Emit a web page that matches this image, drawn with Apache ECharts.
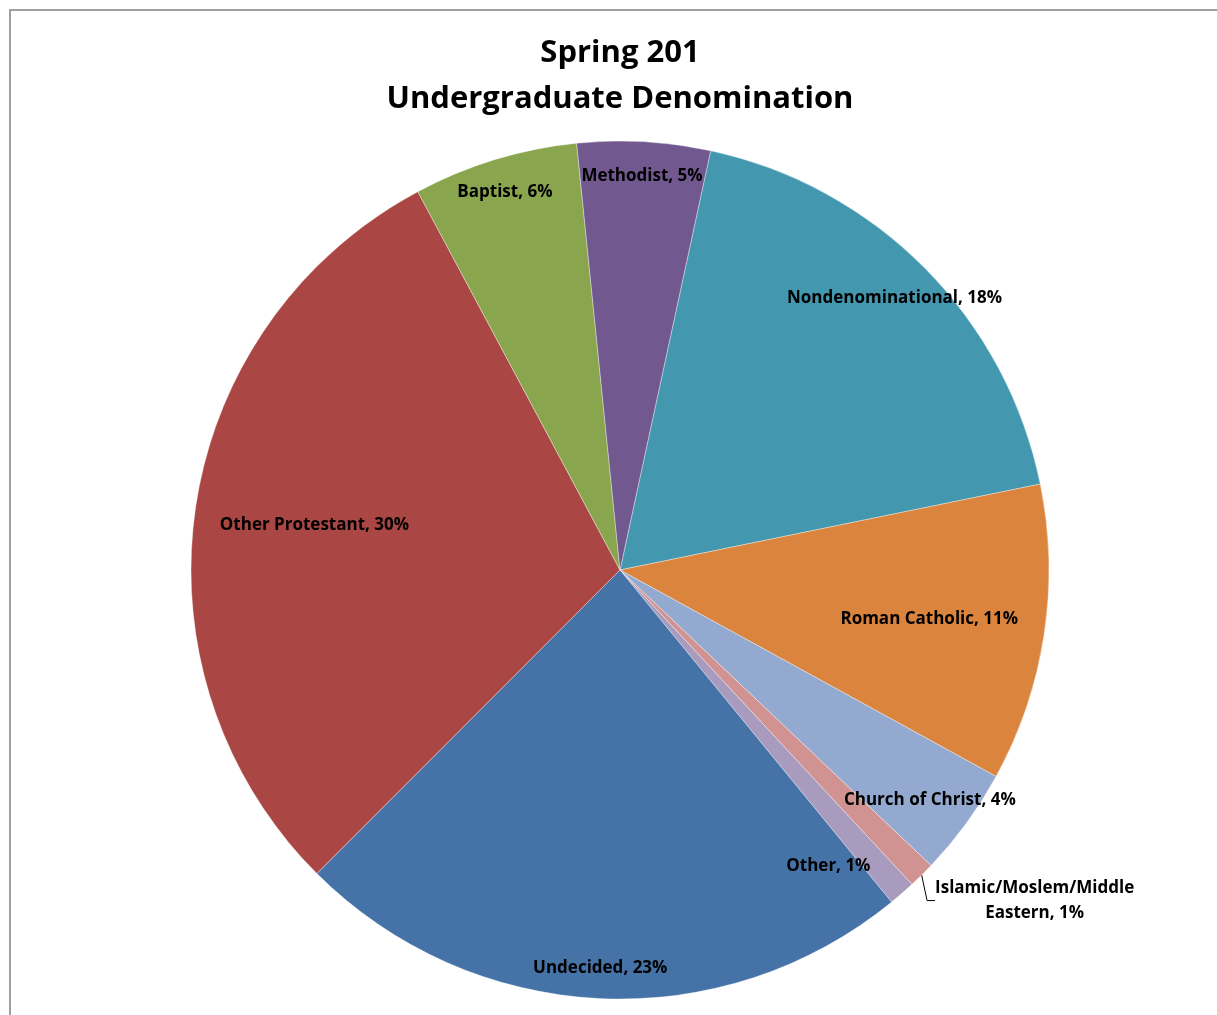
<!DOCTYPE html>
<html>
<head>
<meta charset="utf-8">
<script src="https://cdn.jsdelivr.net/npm/echarts@6/dist/echarts.min.js"></script>
<style>
html,body{margin:0;padding:0;background:#fff;}
#chart{width:1217px;height:1015px;}
</style>
</head>
<body>
<div id="chart"></div>
<script>
// ---- Data ----
var titleLines = ['Spring 201', 'Undergraduate Denomination'];
var categories = ['Nondenominational', 'Roman Catholic', 'Church of Christ',
  'Islamic/Moslem/Middle Eastern', 'Other', 'Undecided', 'Other Protestant',
  'Baptist', 'Methodist'];
var values = [18.4, 11.2, 4.1, 1.0, 1.0, 23.4, 29.7, 6.2, 5.0];

// ---- Styles ----
var colors = ['#4398AF', '#DB843D', '#93A9CF', '#D19392', '#A99BBD',
  '#4572A7', '#AA4643', '#89A54E', '#71588F'];
// fraction of the radius at which each inside label is centred, and angular nudge (deg)
var labelRadiusFrac = [0.90, 0.73, 0.90, null, 0.845, 0.93, 0.72, 0.92, 0.92];
var labelAngleNudge = [0, 0.5, 0.5, 0, 6, 0, 0, 0, 0];
var CX = 620, CY = 570, R = 429;
var FONT = '"Open Sans", "Liberation Sans", sans-serif';

var chart = echarts.init(document.getElementById('chart'), null, {renderer: 'canvas'});

var data = categories.map(function (c, i) {
  var item = {name: c, value: values[i], itemStyle: {color: colors[i]}};
  if (labelRadiusFrac[i] == null) {
    item.label = {position: 'outside', lineHeight: 25,
      formatter: function (p) {
        return p.name.replace('Middle ', 'Middle\n') + ', ' + Math.round(p.percent) + '%';
      }};
    item.labelLine = {show: true, length: 12, length2: 8, smooth: false,
      lineStyle: {color: '#000', width: 1}};
  }
  return item;
});

chart.setOption({
  animation: false,
  backgroundColor: '#fff',
  title: {
    text: titleLines.join('\n'),
    left: CX - 5,
    textAlign: 'center',
    top: 25,
    padding: 5,
    textStyle: {fontFamily: FONT, fontWeight: 'bold', fontSize: 31, lineHeight: 46, color: '#000'}
  },
  graphic: [{
    type: 'rect',
    shape: {x: 10, y: 10, width: 1240, height: 1040},
    style: {fill: 'none', stroke: '#A0A0A0', lineWidth: 2},
    silent: true
  }],
  series: [{
    type: 'pie',
    center: [CX, CY],
    radius: [0, R],
    startAngle: 90 - 12.2,
    clockwise: true,
    avoidLabelOverlap: false,
    data: data,
    itemStyle: {borderColor: 'rgba(255,255,255,0.6)', borderWidth: 0.6},
    label: {
      show: true,
      position: 'inside',
      fontFamily: FONT,
      fontWeight: 'bold',
      fontSize: 17,
      color: '#000',
      formatter: function (p) { return p.name + ', ' + Math.round(p.percent) + '%'; }
    },
    labelLine: {show: false},
    emphasis: {disabled: true},
    labelLayout: function (p) {
      var k = labelRadiusFrac[p.dataIndex];
      var r = p.labelRect;
      if (k == null) {
        return {x: r.x + r.width / 2 - 8, y: r.y + r.height / 2 + 17, align: 'center', verticalAlign: 'middle'};
      }
      var lx = r.x + r.width / 2, ly = r.y + r.height / 2;
      var vx = lx - CX, vy = ly - CY;
      var len = Math.sqrt(vx * vx + vy * vy) || 1;
      var ux = vx / len, uy = vy / len;
      var a = labelAngleNudge[p.dataIndex] * Math.PI / 180;
      var rx = ux * Math.cos(a) - uy * Math.sin(a);
      var ry = ux * Math.sin(a) + uy * Math.cos(a);
      return {x: CX + rx * k * R, y: CY + ry * k * R};
    }
  }]
});
</script>
</body>
</html>
